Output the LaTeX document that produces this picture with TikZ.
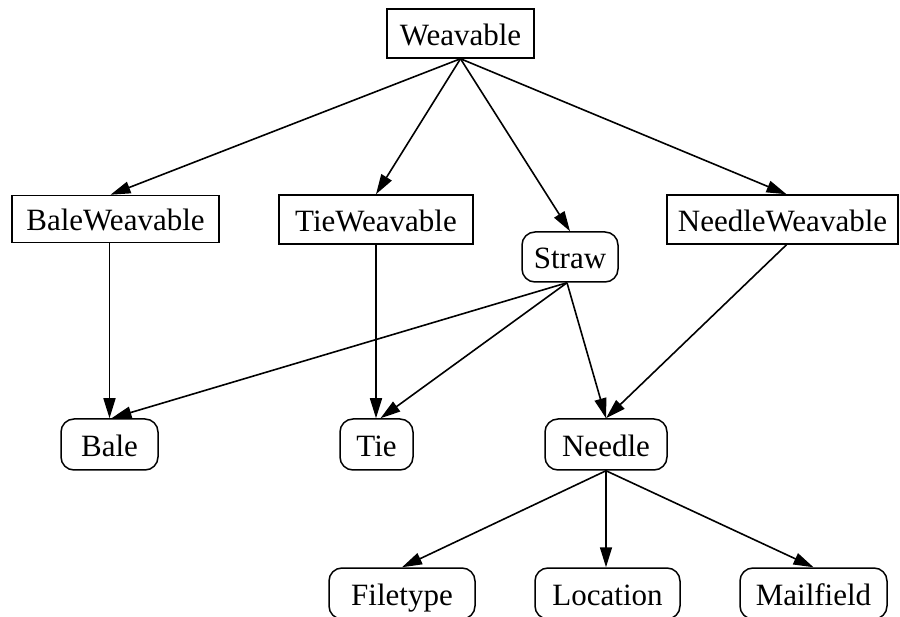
\documentclass[tikz,border=0pt]{standalone}
\usepackage{fontspec}
\setmainfont{Liberation Serif}
\usetikzlibrary{arrows.meta}
\begin{document}
\begin{tikzpicture}[x=1pt, y=-1pt,
  every node/.style={inner sep=0pt, text height=24pt, text depth=0pt,
    font=\fontsize{31}{33}\selectfont, line width=1.5pt, draw=black},
  boxnode/.style={rectangle},
  roundnode/.style={rectangle, rounded corners=13pt},
  edge/.style={line width=1.6pt, -{Triangle[length=20pt,width=12pt]}}]
  \useasboundingbox (0,0) rectangle (900,617);
  % class hierarchy: abstract classes in square boxes
  \node[boxnode, minimum width=147pt, minimum height=49pt] (w)  at (460.5,33.5) {Weavable};
  \node[boxnode, minimum width=207pt, minimum height=47pt] (bw) at (115.5,219) {BaleWeavable};
  \node[boxnode, minimum width=194pt, minimum height=49pt] (tw) at (376,219.5) {TieWeavable};
  \node[boxnode, minimum width=231pt, minimum height=49pt] (nw) at (782.5,219.5) {NeedleWeavable};
  % concrete classes in rounded boxes
  \node[roundnode, minimum width=96pt, minimum height=50pt] (st) at (570,257) {Straw};
  \node[roundnode, minimum width=97pt, minimum height=51pt] (b)  at (109.5,444.5) {Bale};
  \node[roundnode, minimum width=73pt, minimum height=51pt] (t)  at (376.5,444.5) {Tie};
  \node[roundnode, minimum width=122pt, minimum height=51pt] (n) at (606,444.5) {Needle};
  \node[roundnode, minimum width=146pt, minimum height=51pt] (ft) at (402,593.5) {Filetype};
  \node[roundnode, minimum width=145pt, minimum height=51pt] (lo) at (607.5,593.5) {Location};
  \node[roundnode, minimum width=147pt, minimum height=51pt] (mf) at (813.5,593.5) {Mailfield};
  % edges
  \draw[edge] (w.south) -- ([xshift=-5pt]bw.north);
  \draw[edge] (w.south) -- (tw.north);
  \draw[edge] (w.south) -- (st.north);
  \draw[edge] (w.south) -- ([xshift=4pt]nw.north);
  \draw[edge] (b |- bw.south) -- (b.north);
  \draw[edge] (tw.south) -- (tw.south |- t.north);
  \draw[edge] ([xshift=-3pt]st.south) -- ([xshift=2pt]b.north);
  \draw[edge] ([xshift=-3pt]st.south) -- ([xshift=4pt]t.north);
  \draw[edge] ([xshift=-3pt]st.south) -- (n.north);
  \draw[edge] ([xshift=4pt]nw.south) -- (n.north);
  \draw[edge] (n.south) -- (ft.north);
  \draw[edge] (n.south) -- (n.south |- lo.north);
  \draw[edge] (n.south) -- (mf.north);
\end{tikzpicture}
\end{document}
